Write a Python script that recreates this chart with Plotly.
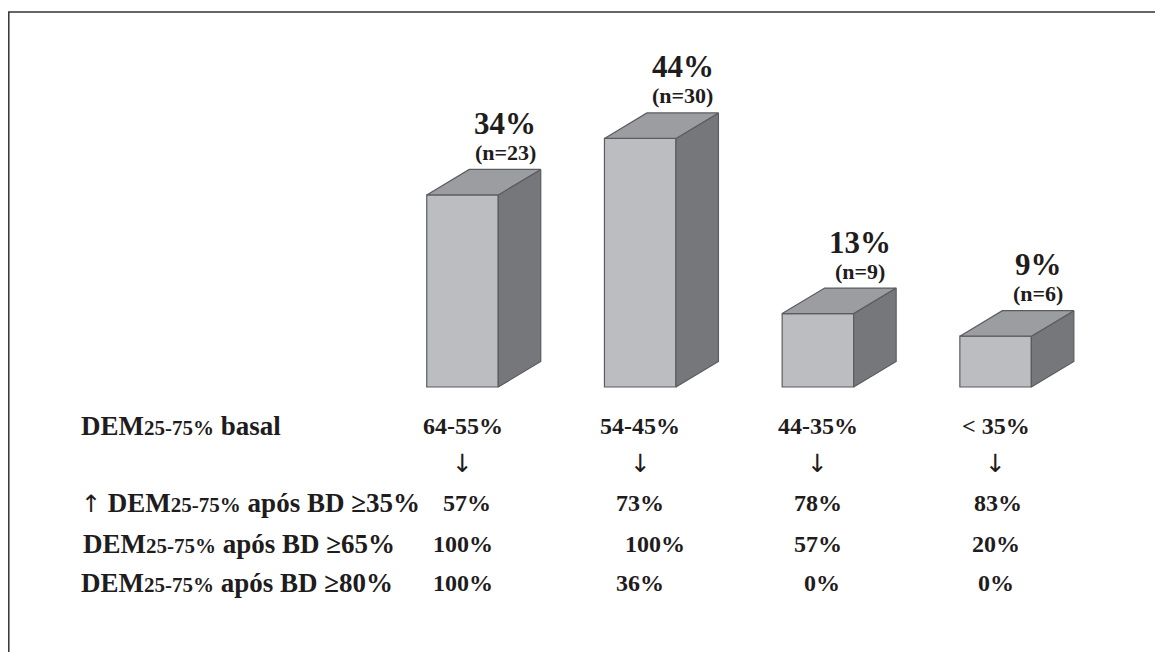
import plotly.graph_objects as go

# ---------------- data ----------------
categories = ["64-55%", "54-45%", "44-35%", "< 35%"]
pct_values = [34, 44, 13, 9]
n_values = [23, 30, 9, 6]
SUB = "<span style='font-size:21px'>25-75%</span>"
UP = "<span style='font-family:DejaVu Sans;font-weight:normal;font-size:24px'>↑</span>"
row_labels = [
    f"DEM{SUB} basal",
    "",
    f"{UP} DEM{SUB} após BD ≥35%",
    f"DEM{SUB} após BD ≥65%",
    f"DEM{SUB} após BD ≥80%",
]
resp_35 = [57, 73, 78, 83]
resp_65 = [100, 100, 57, 20]
resp_80 = [100, 36, 0, 0]

# ---------------- layout constants ----------------
W, H = 1155, 644                       # page body margin of 8px is added by the browser
X0_PX, STEP_PX = 454.5, 177.7          # pixel centre of first bar, spacing
BASE_PX, PX_PER_UNIT = 379.0, 5.65     # baseline pixel row, px per percent
BAR_W = 71.5 / STEP_PX
DX = 42.5 / STEP_PX
DY = 25.5 / PX_PER_UNIT

x_range = [-X0_PX / STEP_PX, (W - X0_PX) / STEP_PX]
y_range = [-(H - BASE_PX) / PX_PER_UNIT, BASE_PX / PX_PER_UNIT]

FRONT = "#bcbdc1"
SIDE = "#76777b"
TOP = "#9c9da0"
EDGE = "#5b5c5f"
TXT = "#1f1c1d"
FONT = "Liberation Serif, Times New Roman, serif"

xs = list(range(len(categories)))

fig = go.Figure()
fig.add_trace(go.Bar(
    x=xs, y=pct_values, width=BAR_W,
    marker=dict(color=FRONT, line=dict(color=EDGE, width=1.2)),
    hoverinfo="skip",
))

side_x, side_y, top_x, top_y = [], [], [], []
for x, v in zip(xs, pct_values):
    r = x + BAR_W / 2
    l = x - BAR_W / 2
    side_x += [r, r + DX, r + DX, r, r, None]
    side_y += [0, DY, v + DY, v, 0, None]
    top_x += [l, l + DX, r + DX, r, l, None]
    top_y += [v, v + DY, v + DY, v, v, None]

fig.add_trace(go.Scatter(x=side_x, y=side_y, mode="lines", fill="toself",
                         fillcolor=SIDE, line=dict(color=EDGE, width=1.2),
                         hoverinfo="skip"))
fig.add_trace(go.Scatter(x=top_x, y=top_y, mode="lines", fill="toself",
                         fillcolor=TOP, line=dict(color=EDGE, width=1.2),
                         hoverinfo="skip"))

annotations = []
for x, v, n in zip(xs, pct_values, n_values):
    annotations.append(dict(x=x + DX, y=v + DY, xref="x", yref="y",
                            text=f"<b>{v}%</b>", showarrow=False, yshift=46,
                            yanchor="middle",
                            font=dict(family=FONT, size=31, color=TXT)))
    annotations.append(dict(x=x + DX, y=v + DY, xref="x", yref="y",
                            text=f"<b>(n={n})</b>", showarrow=False, yshift=17,
                            yanchor="middle",
                            font=dict(family=FONT, size=22, color=TXT)))

row_px = [418, 455, 495, 536, 575]
table = [categories, ["↓"] * 4,
         [f"{v}%" for v in resp_35],
         [f"{v}%" for v in resp_65],
         [f"{v}%" for v in resp_80]]
cell_shift = [[0, 0, 0, 0], [0, 0, 0, 0], [4, 0, 0, 2], [0, 15, 0, 0], [0, 0, 4, 0]]

def py(p):
    return 1 - p / H

for r, (lab, vals, rp) in enumerate(zip(row_labels, table, row_px)):
    if lab:
        annotations.append(dict(x=71 / W, y=py(rp), xref="paper", yref="paper",
                                xanchor="left", yanchor="middle",
                                text=f"<b>{lab}</b>", showarrow=False,
                                xshift=2 if r == 3 else 0,
                                font=dict(family=FONT, size=27, color=TXT)))
    for c, (x, t) in enumerate(zip(xs, vals)):
        is_arrow = t == "↓"
        annotations.append(dict(x=x, y=py(rp), xref="x", yref="paper",
                                xanchor="center", yanchor="middle",
                                text=t if is_arrow else f"<b>{t}</b>", showarrow=False,
                                xshift=cell_shift[r][c],
                                font=dict(family="DejaVu Sans" if is_arrow else FONT,
                                          size=25 if is_arrow else 24, color=TXT)))

fig.update_layout(
    width=W, height=H,
    margin=dict(l=0, r=0, t=0, b=0),
    paper_bgcolor="white", plot_bgcolor="white",
    showlegend=False,
    xaxis=dict(range=x_range, visible=False, fixedrange=True),
    yaxis=dict(range=y_range, visible=False, fixedrange=True),
    annotations=annotations,
    shapes=[dict(type="rect", xref="paper", yref="paper",
                 x0=0.8 / W, y0=1 - 4 / H, x1=1.05, y1=-0.05,
                 line=dict(color="#333333", width=1.5))],
)

fig.write_html("out.html")
